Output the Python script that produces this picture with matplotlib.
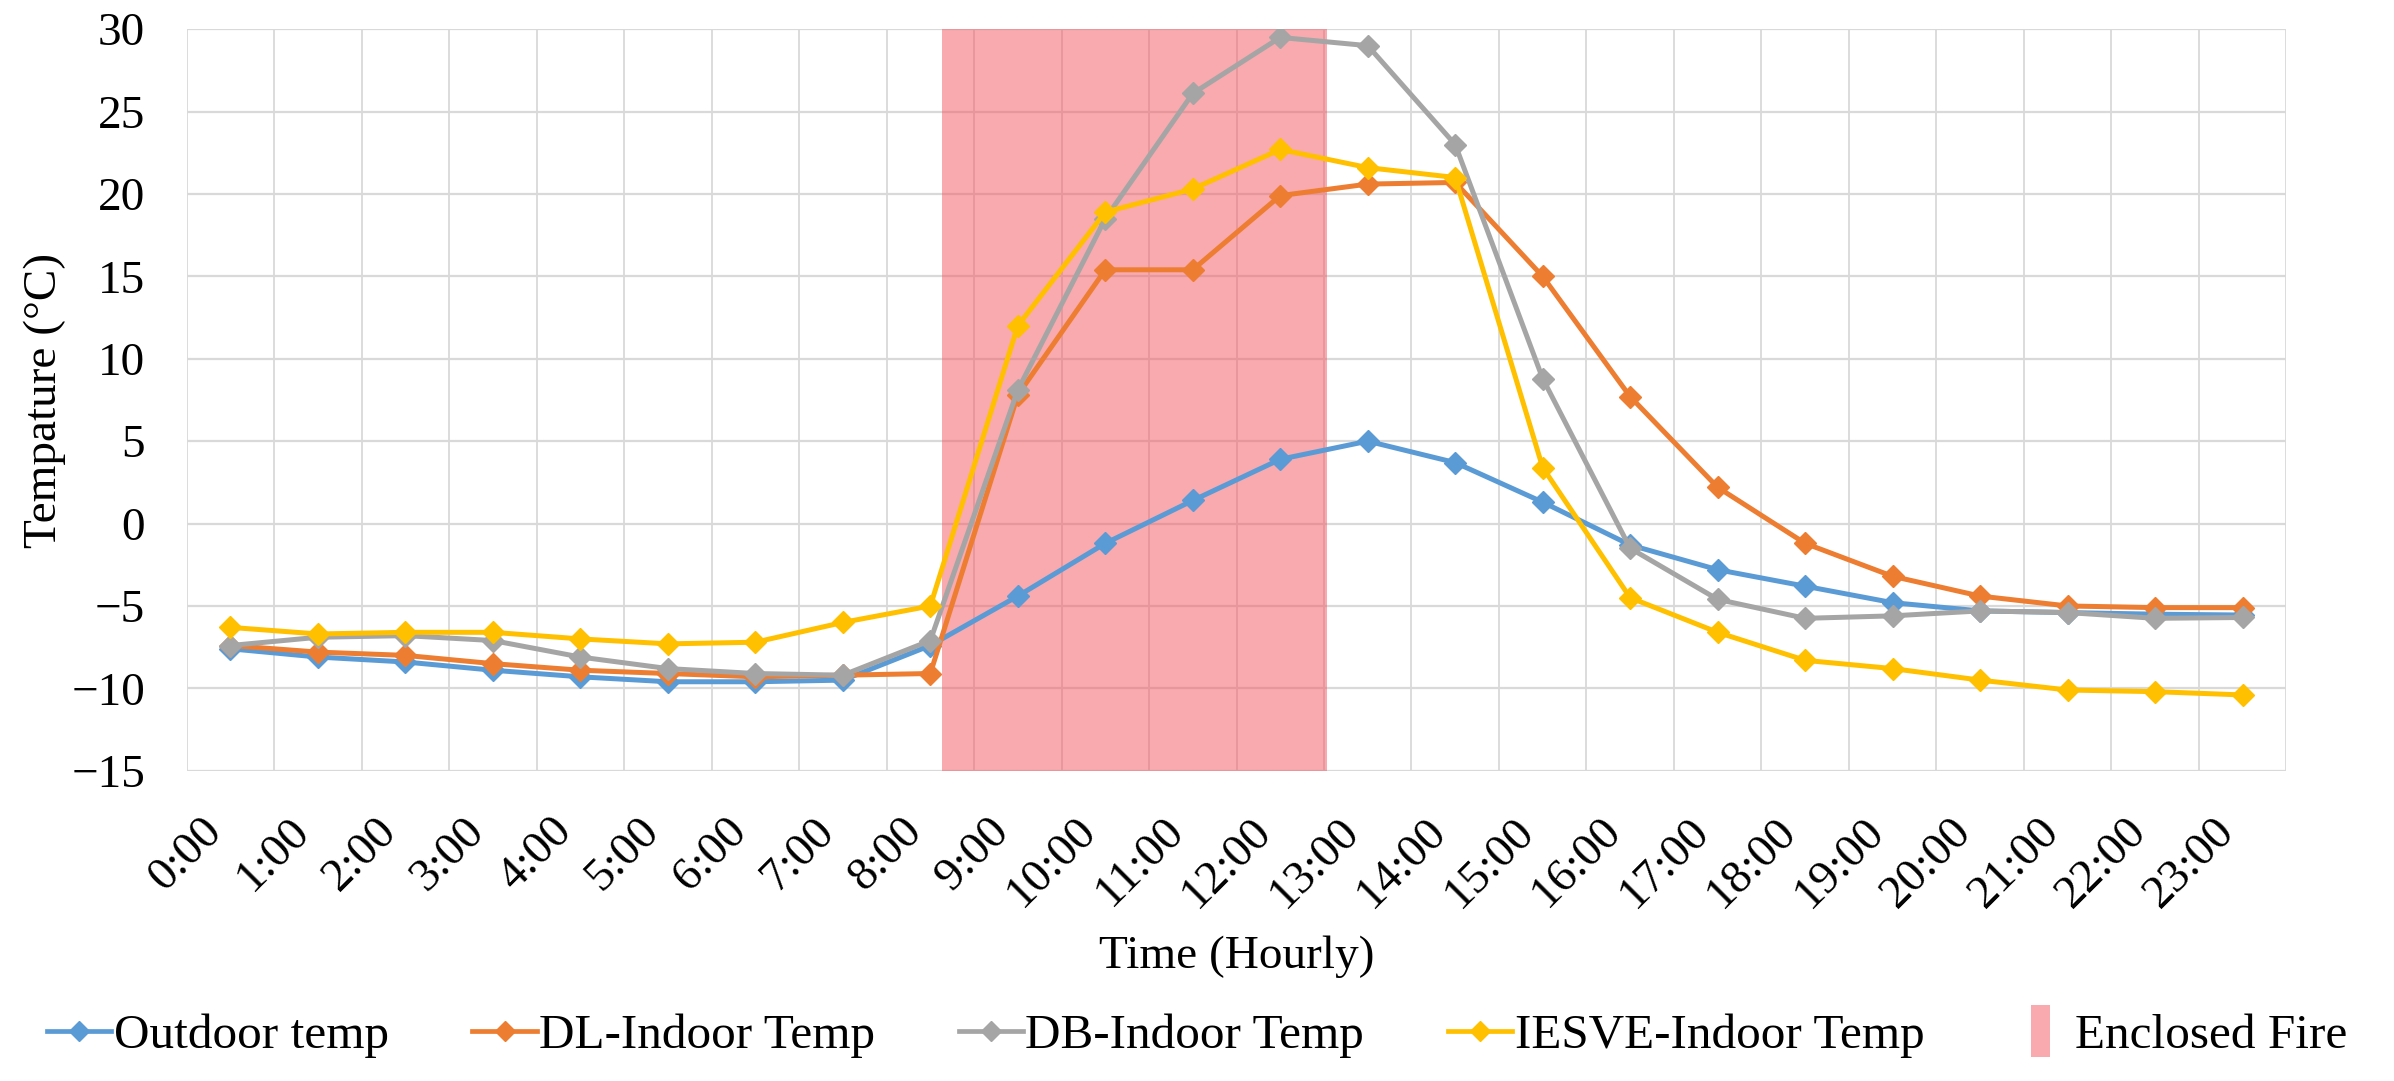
import numpy as np
import matplotlib
matplotlib.use("Agg")
import matplotlib.pyplot as plt
from matplotlib.patches import Patch, Rectangle
from matplotlib.lines import Line2D
from matplotlib.legend_handler import HandlerPatch

plt.rcParams.update({
    'font.family': ['Liberation Serif', 'DejaVu Serif'],
    'font.size': 34,
})

hours = [f"{h}:00" for h in range(24)]

outdoor = [-7.6, -8.1, -8.4, -8.9, -9.3, -9.6, -9.6, -9.5, -7.4, -4.4, -1.2, 1.4,
           3.9, 5.0, 3.7, 1.3, -1.3, -2.8, -3.8, -4.8, -5.3, -5.4, -5.5, -5.55]
dl_indoor = [-7.4, -7.8, -8.0, -8.5, -8.9, -9.1, -9.3, -9.2, -9.1, 7.8, 15.4, 15.4,
             19.9, 20.6, 20.7, 15.0, 7.7, 2.2, -1.2, -3.2, -4.4, -5.0, -5.1, -5.1]
db_indoor = [-7.4, -6.9, -6.8, -7.1, -8.1, -8.8, -9.1, -9.2, -7.1, 8.1, 18.5, 26.1,
             29.5, 29.0, 23.0, 8.8, -1.5, -4.6, -5.75, -5.6, -5.3, -5.4, -5.75, -5.7]
iesve_indoor = [-6.3, -6.7, -6.6, -6.6, -7.0, -7.3, -7.2, -6.0, -5.0, 12.0, 18.9, 20.3,
                22.7, 21.6, 21.0, 3.4, -4.5, -6.6, -8.3, -8.8, -9.5, -10.1, -10.2, -10.4]

fire_start, fire_end = 8.13, 12.53

series = [
    ("Outdoor temp", outdoor, "#5B9BD5"),
    ("DL-Indoor Temp", dl_indoor, "#ED7D31"),
    ("DB-Indoor Temp", db_indoor, "#A5A5A5"),
    ("IESVE-Indoor Temp", iesve_indoor, "#FFC000"),
]
fire_color = "#F4565E"
fire_alpha = 0.5


def narrow_patch(legend, orig_handle, xdescent, ydescent, width, height, fontsize):
    # small upright block like the Excel legend key
    w = height * 0.55
    return Rectangle((width * 0.5 - w / 2 - xdescent, -ydescent - height * 0.25),
                     w, height * 1.5)


fig = plt.figure(figsize=(23.94, 10.81), dpi=100)
ax = fig.add_axes([0.078, 0.287, 0.877, 0.686])

x = np.arange(len(hours))
ax.axvspan(fire_start, fire_end, color=fire_color, alpha=fire_alpha, zorder=1, lw=0)

handles = []
for name, vals, col in series:
    ax.plot(x, vals, color=col, lw=3.6, marker='D', ms=11, zorder=3)
    handles.append(Line2D([], [], color=col, lw=3.4, marker='D', ms=10, label=name))
fire_handle = Patch(facecolor=fire_color, alpha=fire_alpha, edgecolor='none',
                    label="Enclosed Fire")
handles.append(fire_handle)

ax.set_xlim(-0.5, 23.5)
ax.set_ylim(-15, 30)
ax.set_yticks(np.arange(-15, 31, 5))
ax.set_xticks(x)
ax.set_xticklabels(hours, rotation=45, ha='right', va='top')
ax.set_xticks(np.arange(-0.5, 24, 1), minor=True)
ax.tick_params(axis='both', which='both', length=0)
ax.tick_params(axis='y', pad=30)
ax.tick_params(axis='x', pad=28)

ax.set_axisbelow(True)
ax.grid(axis='y', which='major', color='#D9D9D9', lw=1.6)
ax.grid(axis='x', which='minor', color='#D9D9D9', lw=1.3)
for s in ax.spines.values():
    s.set_visible(False)

ax.set_ylabel("Tempature (°C)", fontsize=34, labelpad=4)
ax.set_xlabel("Time (Hourly)", fontsize=34, labelpad=14)

fig.legend(handles=handles, loc='lower center', bbox_to_anchor=(0.5, -0.02), ncol=5,
           frameon=False, fontsize=35.5, handlelength=1.3, handletextpad=0.05,
           columnspacing=1.7,
           handler_map={fire_handle: HandlerPatch(patch_func=narrow_patch)})

fig.savefig("out.png", dpi=100)
